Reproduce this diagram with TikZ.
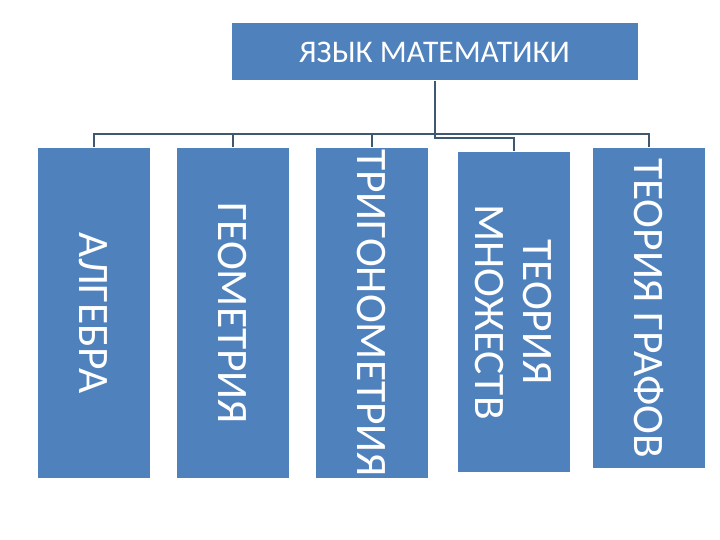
\documentclass[tikz,border=0pt]{standalone}
\usepackage{fontspec}
\setmainfont{Carlito}
\definecolor{boxblue}{HTML}{4F81BD}
\definecolor{linecol}{HTML}{3F5872}
\begin{document}
\begin{tikzpicture}[x=1pt,y=-1pt,
  box/.style={draw=white, line width=1pt, fill=boxblue, text=white, inner sep=0pt},
  vbox/.style={box, minimum width=330pt, minimum height=113pt, rotate=-90, align=center,
     font=\fontsize{43.5}{48}\selectfont},
  conn/.style={draw=linecol, line width=2pt}]
\useasboundingbox (0,0) rectangle (720,540);
\node[box, minimum width=407pt, minimum height=58pt, font=\fontsize{31.5}{34}\selectfont]
  (top) at (434.5,52) {ЯЗЫК МАТЕМАТИКИ};
\node[vbox] (b1) at (93.5,313) {АЛГЕБРА};
\node[vbox] (b2) at (232.5,313) {ГЕОМЕТРИЯ};
\node[vbox] (b3) at (371.5,313) {ТРИГОНОМЕТРИЯ};
\node[vbox, minimum width=320pt] (b4) at (513.5,312) {ТЕОРИЯ\\МНОЖЕСТВ};
\node[vbox, minimum width=320pt] (b5) at (648.5,308) {ТЕОРИЯ ГРАФОВ};
\draw[conn] (b1.west) -- ++(0,-13) -| (b5.west);
\draw[conn] (b2.west) -- ++(0,-13);
\draw[conn] (b3.west) -- ++(0,-13);
\draw[conn] (top.south) -- ++(0,57) -| (b4.west);
\end{tikzpicture}
\end{document}
